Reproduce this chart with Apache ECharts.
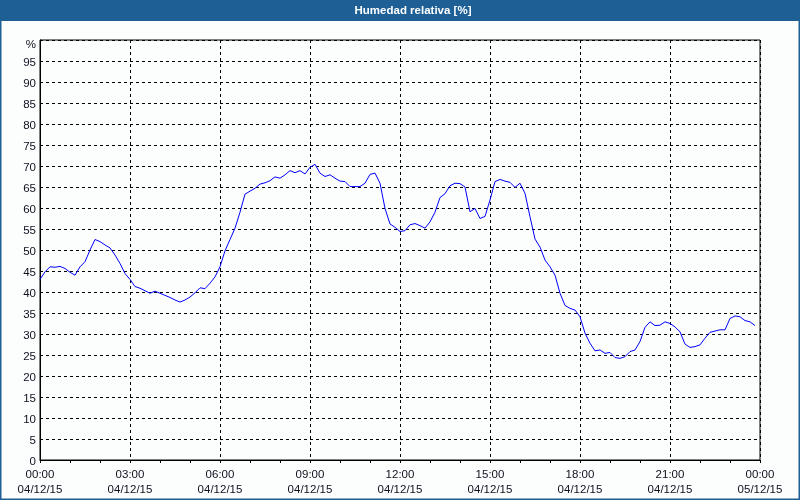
<!DOCTYPE html>
<html><head><meta charset="utf-8">
<script src="https://cdn.jsdelivr.net/npm/echarts@6/dist/echarts.min.js"></script>
<style>html,body{margin:0;padding:0;background:#fcfdfd;}#c{width:800px;height:500px;}</style>
</head><body><div id="c"></div>
<script>
// Relative humidity, 10-minute readings starting 04/12/15 00:00
var stepMinutes = 10;
var humidity = [
43.0,44.8,46.0,45.9,46.1,45.6,44.7,44.0,46.0,47.2,50.0,52.5,52.0,51.2,50.5,48.8,46.8,44.4,
43.0,41.3,40.9,40.3,39.7,40.2,39.7,39.2,38.7,38.1,37.6,38.1,38.8,39.8,41.0,40.8,42.1,43.6,
46.0,49.8,52.5,55.2,59.0,63.3,64.0,64.7,65.7,66.0,66.5,67.4,67.1,67.9,68.9,68.4,68.9,68.1,
69.7,70.4,68.3,67.5,67.9,67.1,66.4,66.3,65.1,65.1,65.1,65.9,68.0,68.3,65.9,59.9,56.2,55.4,
54.4,54.6,56.0,56.3,55.8,55.2,56.7,59.0,62.5,63.4,65.3,65.9,65.8,65.0,59.1,59.9,57.5,58.0,
61.9,66.3,66.8,66.4,66.1,64.9,65.9,63.5,57.9,52.6,50.7,47.6,46.0,44.0,39.7,36.8,36.1,35.7,
34.1,30.2,27.8,26.0,26.2,25.4,25.6,24.4,24.2,24.6,25.8,26.2,28.2,31.6,32.9,32.0,32.1,32.9,
32.5,31.7,30.5,27.6,26.8,27.0,27.4,29.0,30.4,30.7,31.0,31.0,33.7,34.3,34.1,33.2,32.9,32.0
];
var xTickTimes = ['00:00','03:00','06:00','09:00','12:00','15:00','18:00','21:00','00:00'];
var xTickDates = ['04/12/15','04/12/15','04/12/15','04/12/15','04/12/15','04/12/15','04/12/15','04/12/15','05/12/15'];
var yTopLabel = '%';
var titleText = 'Humedad relativa [%]';

var seriesData = humidity.map(function(v, i){ return [i * stepMinutes, v]; });
var font = 'Liberation Sans';
var txt = '#101020';

var chart = echarts.init(document.getElementById('c'), null, {renderer:'canvas'});
chart.setOption({
  backgroundColor: '#fcfdfd',
  animation: false,
  grid: {left: 40, right: 40, top: 40, bottom: 40, show: true, borderColor: '#000', borderWidth: 1, backgroundColor: 'transparent'},
  graphic: [
    {type:'rect', shape:{x:0, y:0, width:800, height:21}, style:{fill:'#1e6096'}, z:10},
    {type:'rect', shape:{x:0.5, y:0.5, width:799, height:499}, style:{fill:null, stroke:'#1e6096', lineWidth:2}, z:10},
    {type:'text', x:413, y:11, style:{text:titleText, fill:'#fff', font:'bold 11.5px "Liberation Sans"', textAlign:'center', textVerticalAlign:'middle'}, z:11}
  ],
  xAxis: {
    type: 'value', min: 0, max: 1440, interval: 180,
    axisLine: {show: true, lineStyle: {color: '#000', width: 1}},
    axisTick: {show: true, length: 3, lineStyle: {color: '#000'}},
    minorTick: {show: true, splitNumber: 3, length: 3, lineStyle: {color: '#000'}},
    splitLine: {show: true, lineStyle: {color: '#000', type: [3, 3], width: 1}},
    axisLabel: {
      margin: 7, color: txt, fontFamily: font, fontSize: 11.5, lineHeight: 15,
      formatter: function(v){ var i = Math.round(v / 180); return xTickTimes[i] + '\n' + xTickDates[i]; }
    }
  },
  yAxis: {
    type: 'value', min: 0, max: 100, interval: 5,
    axisLine: {show: true, lineStyle: {color: '#000', width: 1}},
    axisTick: {show: false},
    splitLine: {show: true, lineStyle: {color: '#000', type: [3, 3], width: 1}},
    axisLabel: {
      margin: 4, color: txt, fontFamily: font, fontSize: 11.5,
      formatter: function(v){ return v === 100 ? '{p|' + yTopLabel + '}' : '{n|' + v + '}'; },
      rich: {p: {padding: [10, 0, 0, 0], color: txt, fontFamily: font, fontSize: 11.5}, n: {padding: [3, 0, 0, 0], color: txt, fontFamily: font, fontSize: 11.5}}
    }
  },
  series: [{
    type: 'line', data: seriesData, showSymbol: false, symbol: 'none',
    lineStyle: {color: '#0000ff', width: 1}, z: 5
  }]
});
</script></body></html>
